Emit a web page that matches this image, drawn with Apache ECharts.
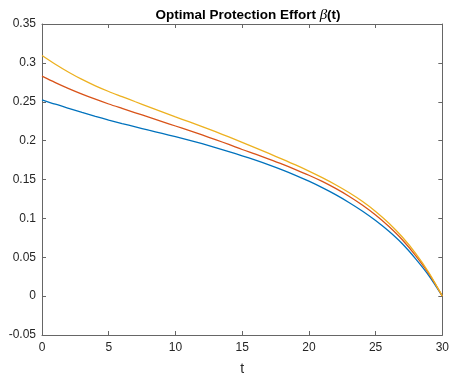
<!DOCTYPE html>
<html>
<head>
<meta charset="utf-8">
<script src="https://cdn.jsdelivr.net/npm/echarts@6/dist/echarts.min.js"></script>
<style>html,body{margin:0;padding:0;background:#fff;}#c{width:452px;height:381px;}</style>
</head>
<body>
<div id="c"></div>
<script>
const tValues = [0,1,2,3,4,5,6,7,8,9,10,11,12,13,14,15,16,17,18,19,20,21,22,23,24,25,26,27,28,29,30];
const betaBlue = [0.2525,0.2468,0.2415,0.2363,0.2313,0.2265,0.2220,0.2177,0.2134,0.2092,0.2050,0.2006,0.1960,0.1911,0.1859,0.1805,0.1748,0.1688,0.1624,0.1554,0.1478,0.1395,0.1305,0.1205,0.1095,0.0972,0.0833,0.0673,0.0480,0.0262,0.0];
const betaOrange = [0.2830,0.2747,0.2670,0.2599,0.2533,0.2471,0.2414,0.2358,0.2302,0.2245,0.2188,0.2131,0.2073,0.2013,0.1951,0.1886,0.1825,0.1762,0.1697,0.1628,0.1555,0.1475,0.1385,0.1285,0.1172,0.1043,0.0895,0.0725,0.0520,0.0285,0.0];
const betaYellow = [0.3095,0.2983,0.2880,0.2787,0.2705,0.2632,0.2566,0.2500,0.2435,0.2370,0.2305,0.2243,0.2180,0.2115,0.2048,0.1978,0.1907,0.1835,0.1762,0.1687,0.1608,0.1524,0.1433,0.1333,0.1220,0.1090,0.0938,0.0760,0.0550,0.0300,0.0];
const xTicks = [0,5,10,15,20,25,30];
const yTicks = [-0.05,0,0.05,0.1,0.15,0.2,0.25,0.3,0.35];

const pairs = arr => tValues.map((t,i)=>[t,arr[i]]);
const axisCol = '#666666';
const textCol = '#262626';
const font = 'Liberation Sans, Arial, sans-serif';
const chart = echarts.init(document.getElementById('c'), null, {renderer:'canvas'});
const baseX = {
  type:'value', min:xTicks[0], max:xTicks[xTicks.length-1], interval:5,
  axisLine:{show:true, onZero:false, lineStyle:{color:axisCol, width:1}},
  axisTick:{show:true, inside:true, length:4, lineStyle:{color:axisCol}},
  splitLine:{show:false}
};
const baseY = {
  type:'value', min:yTicks[0], max:yTicks[yTicks.length-1], interval:0.05,
  axisLine:{show:true, onZero:false, lineStyle:{color:axisCol, width:1}},
  axisTick:{show:true, inside:true, length:4, lineStyle:{color:axisCol}},
  splitLine:{show:false}
};
chart.setOption({
  animation:false,
  backgroundColor:'#ffffff',
  title:{
    text:'{b|Optimal Protection Effort }{g|β}{b|(t)}',
    left:243, top:3, textAlign:'center',
    textStyle:{
      rich:{
        b:{fontFamily:font, fontWeight:'bold', fontSize:13.5, color:'#000'},
        g:{fontFamily:'Liberation Serif, Times New Roman, serif', fontStyle:'italic', fontWeight:'normal', fontSize:15, color:'#000'}
      }
    }
  },
  grid:{left:42, right:7, top:24, bottom:42, containLabel:false},
  xAxis:[
    Object.assign({}, baseX, {position:'bottom',
      name:'t', nameLocation:'middle', nameGap:27,
      nameTextStyle:{fontFamily:font, fontSize:14, color:textCol},
      axisLabel:{show:true, margin:7, color:textCol, fontFamily:font, fontSize:12}}),
    Object.assign({}, baseX, {position:'top', axisLabel:{show:false}})
  ],
  yAxis:[
    Object.assign({}, baseY, {position:'left',
      axisLabel:{show:true, margin:6, color:textCol, fontFamily:font, fontSize:12,
        formatter: v => { const r = Math.round(v*100)/100; return String(r); }}}),
    Object.assign({}, baseY, {position:'right', axisLabel:{show:false}})
  ],
  series:[
    {type:'line', data:pairs(betaBlue), smooth:0.3, showSymbol:false, lineStyle:{color:'#0072BD', width:1.3}, itemStyle:{color:'#0072BD'}},
    {type:'line', data:pairs(betaOrange), smooth:0.3, showSymbol:false, lineStyle:{color:'#D95319', width:1.3}, itemStyle:{color:'#D95319'}},
    {type:'line', data:pairs(betaYellow), smooth:0.3, showSymbol:false, lineStyle:{color:'#EDB120', width:1.3}, itemStyle:{color:'#EDB120'}}
  ]
});
</script>
</body>
</html>
